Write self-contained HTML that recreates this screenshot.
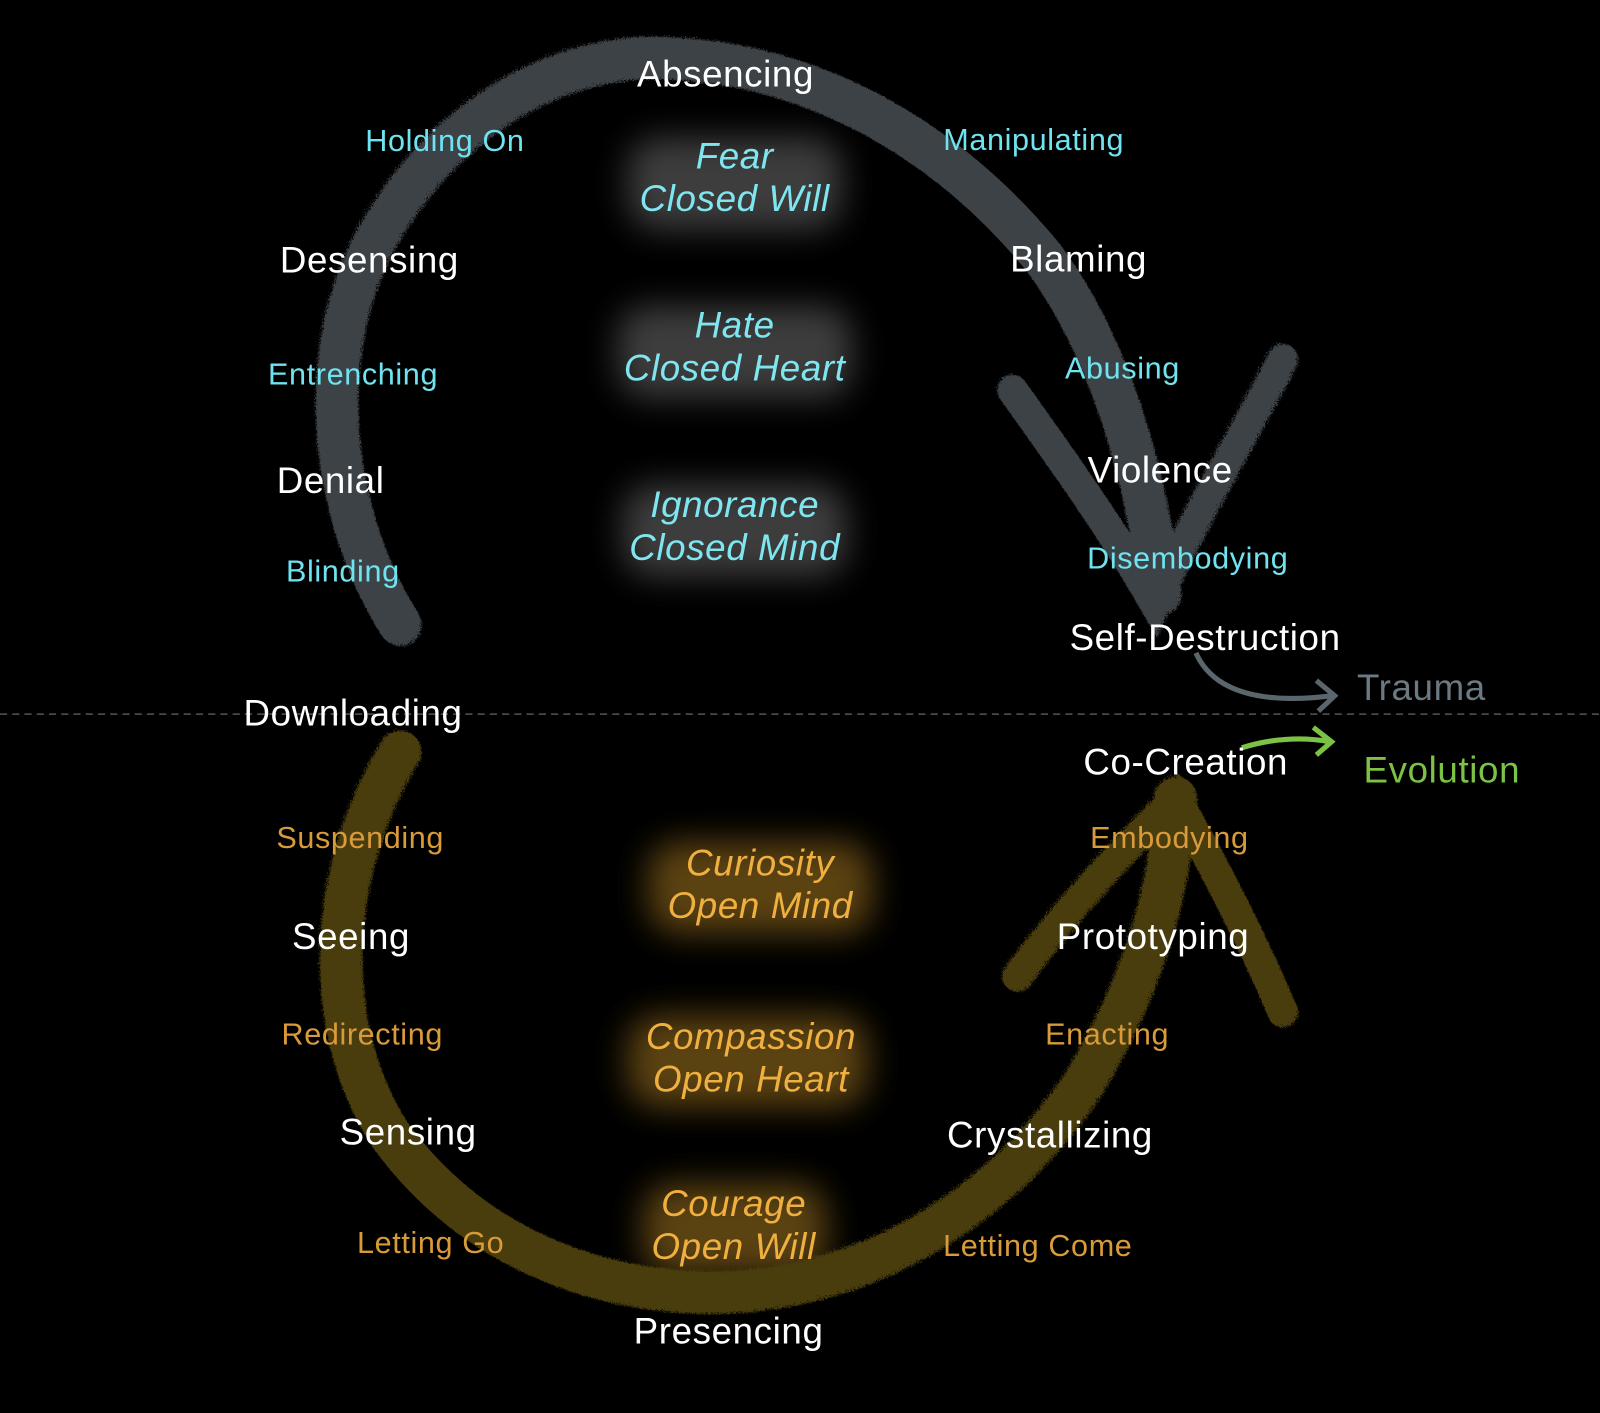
<!DOCTYPE html>
<html><head><style>
html,body{margin:0;padding:0;background:#000;}
svg{display:block}
text{font-family:"Liberation Sans",sans-serif;letter-spacing:0.6px}
.w{fill:#fff;font-size:36px}
.c{fill:#6fe3ef;font-size:30px}
.o{fill:#d99a3a;font-size:30px}
.ci{fill:#7fe6f0;font-size:36px;font-style:italic}
.oi{fill:#f0b040;font-size:36px;font-style:italic}
</style></head><body>
<svg width="1600" height="1413" viewBox="0 0 1568 1385" preserveAspectRatio="none">
<defs>
<filter id="b" x="-50%" y="-50%" width="200%" height="200%"><feGaussianBlur stdDeviation="16"/></filter>
<filter id="r"><feTurbulence baseFrequency="0.9" numOctaves="2" result="t"/><feDisplacementMap in="SourceGraphic" in2="t" scale="8"/></filter>
</defs>
<rect width="1568" height="1385" fill="#000"/>
<g filter="url(#b)">
<g opacity="0.4" fill="#999">
<rect x="615" y="135" width="210" height="90" rx="30"/>
<rect x="605" y="300" width="230" height="90" rx="30"/>
<rect x="610" y="475" width="220" height="90" rx="30"/>
</g>
<g opacity="0.5" fill="#b58320">
<rect x="635" y="825" width="220" height="90" rx="30"/>
<rect x="615" y="995" width="235" height="90" rx="30"/>
<rect x="630" y="1160" width="180" height="90" rx="30"/>
</g>
</g>
<g filter="url(#r)" fill="none" stroke="#3e4346" stroke-linecap="round">
<path d="M390 610 C320 500 300 330 380 210 C450 100 560 50 650 55 C800 60 930 140 1020 250 C1080 330 1120 450 1135 580" stroke-width="42"/>
<path d="M990 380 C1040 450 1090 520 1130 590 C1170 500 1220 420 1255 350" stroke-width="30"/>
</g>
<g filter="url(#r)" fill="none" stroke="#4a3c10" stroke-linecap="round">
<path d="M390 735 C320 850 310 1000 380 1110 C460 1220 580 1265 700 1265 C850 1262 980 1180 1060 1060 C1120 960 1145 870 1150 780" stroke-width="42"/>
<path d="M995 955 C1050 880 1110 820 1150 780 C1190 850 1230 930 1255 990" stroke-width="30"/>
</g>
<line x1="0" y1="700" x2="1568" y2="700" stroke="#555" stroke-width="1.5" stroke-dasharray="7,5"/>
<path d="M1172 640 C1190 680 1240 690 1305 682" fill="none" stroke="#5a666c" stroke-width="5"/>
<path d="M1290 667 L1308 682 L1292 697" fill="none" stroke="#5a666c" stroke-width="5"/>
<path d="M1217 733 C1245 724 1275 722 1303 727" fill="none" stroke="#7cc244" stroke-width="5"/>
<path d="M1287 713 L1305 727 L1290 740" fill="none" stroke="#7cc244" stroke-width="5"/>
<g text-anchor="middle">
<text class="w" x="711" y="85">Absencing</text>
<text class="c" x="436" y="148">Holding On</text>
<text class="c" x="1013" y="147">Manipulating</text>
<text class="w" x="362" y="267">Desensing</text>
<text class="w" x="1057" y="266">Blaming</text>
<text class="c" x="346" y="377">Entrenching</text>
<text class="c" x="1100" y="371">Abusing</text>
<text class="w" x="324" y="483">Denial</text>
<text class="w" x="1137" y="473">Violence</text>
<text class="c" x="336" y="570">Blinding</text>
<text class="c" x="1164" y="557">Disembodying</text>
<text class="w" x="1181" y="637">Self-Destruction</text>
<text x="1393" y="686" style="fill:#6b7a82;font-size:36px">Trauma</text>
<text class="w" x="346" y="711">Downloading</text>
<text class="w" x="1162" y="759">Co-Creation</text>
<text x="1413" y="767" style="fill:#7cc244;font-size:36px">Evolution</text>
<text class="o" x="353" y="831">Suspending</text>
<text class="o" x="1146" y="831">Embodying</text>
<text class="w" x="344" y="930">Seeing</text>
<text class="w" x="1130" y="930">Prototyping</text>
<text class="o" x="355" y="1024">Redirecting</text>
<text class="o" x="1085" y="1024">Enacting</text>
<text class="w" x="400" y="1122">Sensing</text>
<text class="w" x="1029" y="1125">Crystallizing</text>
<text class="o" x="422" y="1228">Letting Go</text>
<text class="o" x="1017" y="1231">Letting Come</text>
<text class="w" x="714" y="1317">Presencing</text>
<text class="ci" x="720" y="165">Fear</text>
<text class="ci" x="720" y="207">Closed Will</text>
<text class="ci" x="720" y="331">Hate</text>
<text class="ci" x="720" y="373">Closed Heart</text>
<text class="ci" x="720" y="507">Ignorance</text>
<text class="ci" x="720" y="549">Closed Mind</text>
<text class="oi" x="745" y="858">Curiosity</text>
<text class="oi" x="745" y="900">Open Mind</text>
<text class="oi" x="736" y="1028">Compassion</text>
<text class="oi" x="736" y="1070">Open Heart</text>
<text class="oi" x="719" y="1192">Courage</text>
<text class="oi" x="719" y="1234">Open Will</text>
</g>
</svg>
</body></html>
